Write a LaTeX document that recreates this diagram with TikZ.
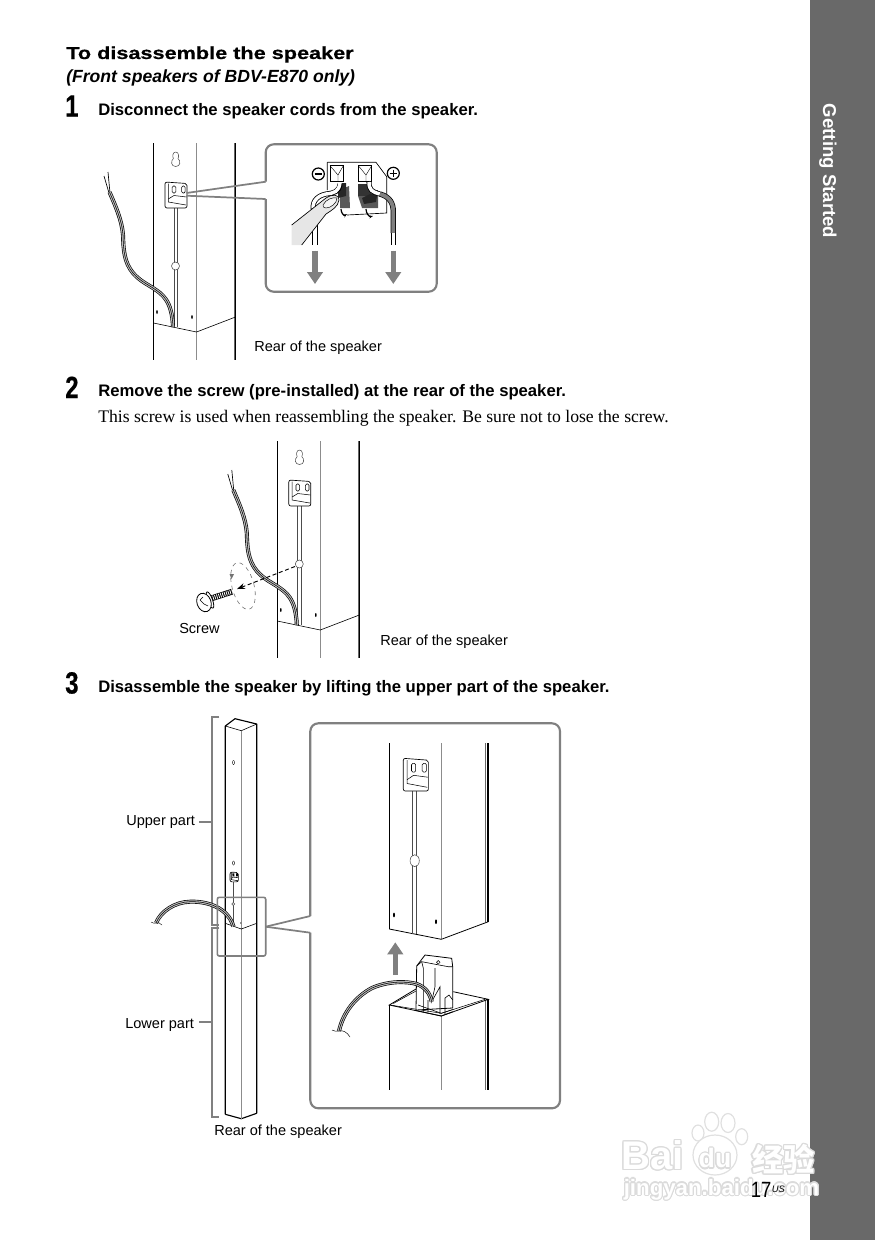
\documentclass[tikz,border=0pt]{standalone}
\usepackage{fontspec}
\usepackage{xcolor}
\usepackage[copies]{contour}
\setmainfont{Liberation Sans}
\newfontfamily\bodyserif{Liberation Serif}
\newfontfamily\widehead[FakeStretch=1.25,BoldFeatures={FakeBold=0.6}]{Liberation Sans}
\newfontfamily\stepfont[FakeStretch=0.78,BoldFeatures={FakeBold=0.5}]{Liberation Sans}
\newfontfamily\pagefont[FakeStretch=0.84]{Liberation Sans}
\newfontfamily\wmcjk{Noto Sans CJK SC}
\usetikzlibrary{arrows.meta,positioning,calc}
\definecolor{boxgray}{HTML}{808080}
\definecolor{sidegray}{HTML}{696969}
\definecolor{fingergray}{HTML}{E6E6E6}
\contourlength{0.9pt}

\begin{document}
\begin{tikzpicture}[
  x=0.75pt, y=-0.75pt,
  stepnum/.style={anchor=base west, inner sep=0, font=\stepfont\bfseries\fontsize{23}{24}\selectfont},
  stephead/.style={anchor=base west, inner sep=0, font=\bfseries\fontsize{12.5}{14}\selectfont},
  caplabel/.style={anchor=base west, inner sep=0, font=\fontsize{10.9}{12}\selectfont},
  outline/.style={line width=0.85pt, black},
  thinline/.style={line width=0.45pt, black},
  edgeline/.style={line width=0.7pt, black!45},
  stemline/.style={line width=0.4pt, black!70},
  insetbox/.style={draw=boxgray, line width=1.6pt, rounded corners=6pt},
  callout/.style={draw=boxgray, line width=1.3pt},
  cord/.style={line width=0.4pt, black, preaction={draw, black, line width=3pt}, preaction={draw, black!25, line width=2pt}},
  liftarrow/.style={-{Triangle[length=9pt, width=11.5pt]}, draw=boxgray, fill=boxgray, line width=3.8pt},
  wmtext/.style={inner sep=0, text=white},
  plate/.pic={
    \draw[line width=0.5pt, fill=white, rounded corners=1.5pt] (0,0) -- (22,1.5) -- (22,26) -- (0,26) -- cycle;
    \draw[line width=0.4pt] (3.3,1.5) -- (3.3,20) -- (21,23);
    \draw[line width=0.4pt, rounded corners=1pt] (7.2,4) rectangle (10.8,11);
    \draw[line width=0.4pt, rounded corners=1pt] (16.6,4) rectangle (20.2,11);
    \draw[line width=0.4pt] (3.3,17) -- (9,13.5) -- (21.5,15);
  }
]
\useasboundingbox (0,0) rectangle (875,1240);
\fill[sidegray] (809.5,0) rectangle (875,1240);
\node[anchor=center, inner sep=0, rotate=-90, text=white, font=\bfseries\fontsize{13.95}{15}\selectfont] (sidetitle) at (828,171) {Getting Started};

\node[anchor=base west, inner sep=0, font=\widehead\bfseries\fontsize{13}{15}\selectfont] (title) at (66,59) {To disassemble the speaker};
\node[anchor=base west, inner sep=0, font=\bfseries\itshape\fontsize{13.2}{15}\selectfont] (subtitle) at (66,82) {(Front speakers of BDV-E870 only)};
\node[stepnum] (num1) at (65,116.5) {1};
\node[stephead] (head1) at (98,115) {Disconnect the speaker cords from the speaker.};
\node[stepnum] (num2) at (65,398) {2};
\node[stephead] (head2) at (98,396) {Remove the screw (pre-installed) at the rear of the speaker.};
\node[anchor=base west, inner sep=0, font=\bodyserif\fontsize{13.25}{15}\selectfont] (body2) at (98,422) {This screw is used when reassembling the speaker. Be sure not to lose the screw.};
\node[stepnum] (num3) at (65,693.5) {3};
\node[stephead] (head3) at (98,692) {Disassemble the speaker by lifting the upper part of the speaker.};

\foreach \dx/\dy in {0/0,123.8/298}{
\begin{scope}[shift={(\dx,\dy)}]
\draw[outline] (153.5,143) -- (153.5,360);
\draw[edgeline] (196.5,143) -- (196.5,360);
\draw[line width=0.5pt, black!60] (234.3,143) -- (234.3,360);
\draw[outline] (235.8,143) -- (235.8,360);
\draw[thinline] (153.5,323) -- (196.5,332) -- (235.5,317);
\draw[stemline] (173.8,208) -- (173.8,327);
\draw[stemline] (177.2,208) -- (177.2,327);
\draw[stemline, fill=white] (175.5,266) circle (4);
\draw[stemline, fill=white] (175.7,152) .. controls (179,152) and (179,157) .. (178,158.5) .. controls (181,161) and (180.5,166.5) .. (175.7,166.5) .. controls (171,166.5) and (170.5,161) .. (173.4,158.5) .. controls (172.4,157) and (172.4,152) .. (175.7,152);
\pic at (165,182) {plate};
\fill (157,312) ellipse (0.8 and 2);
\fill (192,317) ellipse (0.8 and 2);
\draw[line width=0.5pt] (109,193) -- (104,176);
\draw[line width=0.5pt] (110,193) -- (108,172);
\draw[cord] (109.5,192) .. controls (115,205) and (122,220) .. (123,235) .. controls (123.5,250) and (124,262) .. (133,273) .. controls (140,281) and (147,284) .. (153,288) .. controls (162,294) and (172,300) .. (173,327);
\end{scope}
}

\draw[callout] (186.5,193) -- (265.7,181.7);
\draw[callout] (186.5,195.7) -- (265.7,199);
\draw[insetbox] (265.7,181.7) -- (265.7,144.3) -- (436.7,144.3) -- (436.7,291.7) -- (265.7,291.7) -- (265.7,199);
\draw[line width=0.5pt] (327.3,162.3) -- (376,162.3) -- (386.7,176.7) -- (386.7,213) -- (347,215) (327.3,162.3) -- (327.3,190);
\draw[line width=0.5pt] (330,165.7) rectangle (343.3,181.7);
\draw[line width=0.5pt] (358.3,165.7) rectangle (371.7,181.7);
\draw[line width=0.3pt] (330,165.7) -- (338,175) -- (338,181.7) (343.3,165.7) -- (338,175);
\draw[line width=0.3pt] (358.3,165.7) -- (366,175) -- (366,181.7) (371.7,165.7) -- (366,175);
\draw[line width=0.9pt] (318.3,174) circle (6);
\draw[line width=1.2pt] (314.5,174) -- (322,174);
\draw[line width=0.9pt] (393.3,173.3) circle (6);
\draw[line width=1.2pt] (389.5,173.3) -- (397,173.3) (393.3,169.5) -- (393.3,177);
\fill[black!65] (340,190) -- (349,186) -- (350,208) -- (340,208) -- cycle;
\fill[black!85] (338,183) -- (346,183) -- (346,196) -- (338,198) -- cycle;
\fill[black!65] (358,196) -- (378,196) -- (378,208) -- (362,208) -- cycle;
\fill[black!80] (358,184) rectangle (371,196);
\fill[black!85] (362,198) -- (378,190) -- (376,202) -- (364,204) -- cycle;
\draw[line width=0.9pt, -{Stealth[length=3pt]}] (341,209) .. controls (341,213) and (344,216) .. (347,214);
\draw[line width=0.9pt, -{Stealth[length=3pt]}] (366,209) .. controls (366,213) and (369,217) .. (373,216);
\draw[black, line width=3.8pt] (369,182) .. controls (369,190) and (372,192) .. (380,194);
\draw[white, line width=2.6pt] (369,182) .. controls (369,190) and (372,192) .. (380,194);
\draw[black, line width=4pt, line cap=butt] (380,194) .. controls (390,197) and (393.3,203) .. (393.3,212) -- (393.3,233);
\draw[black!50, line width=2.9pt, line cap=butt] (380,194) .. controls (390,197) and (393.3,203) .. (393.3,212) -- (393.3,233);
\draw[black, line width=3.8pt] (393.3,233) -- (393.3,245);
\draw[white, line width=2.6pt] (393.3,232.8) -- (393.3,246);
\draw[black, line width=3.8pt] (340,184) .. controls (339,192) and (334,193) .. (326,194) .. controls (316,196) and (311,203) .. (314,212);
\draw[white, line width=2.6pt] (340,182.5) .. controls (339,192) and (334,193) .. (326,194) .. controls (316,196) and (311,203) .. (314,212);
\draw[black, line width=3.8pt] (315,225) -- (315,245);
\draw[white, line width=2.6pt] (315,225) -- (315,246);
\fill[fingergray] (291.7,225) -- (326,198) .. controls (331,194) and (340,194) .. (339,200) .. controls (338,207) and (332,210) .. (326,214) -- (301.7,245) -- (291.7,245) -- cycle;
\draw[line width=0.5pt] (291.7,225) -- (326,198) .. controls (331,194) and (340,194) .. (339,200) .. controls (338,207) and (332,210) .. (326,214) -- (301.7,245);
\draw[line width=0.35pt, fill=fingergray!40] (323,205) .. controls (326,199) and (333,197) .. (337,198) .. controls (337,203) and (331,208) .. (326,208) .. controls (324,208) and (323,207) .. (323,205);
\draw[liftarrow] (315,250.5) -- (315,284);
\draw[liftarrow] (393.3,250.5) -- (393.3,284);
\node[caplabel] (rear1) at (254,351) {Rear of the speaker};

\draw[densely dashed, line width=0.7pt, -{Stealth[length=6pt, width=4.5pt]}] (295,566.5) -- (237,589);
\draw[dashed, line width=0.45pt, black!55, rotate around={15:(243,586)}] (243,586) ellipse (11 and 24);
\fill[black!55] (229.5,574) -- (234,574) -- (231.5,579) -- cycle;
\draw[line width=4.4pt, line cap=butt] (211,598.5) -- (232,591.7);
\draw[white, line width=3.4pt, dash pattern=on 0.6pt off 0.9pt, line cap=butt] (211,598.5) -- (232,591.7);
\draw[line width=0.6pt, fill=white, rotate around={20:(210,600)}] (210,600) ellipse (2.5 and 8.6);
\draw[line width=0.6pt, fill=white, rotate around={20:(204,602.5)}] (204,602.5) ellipse (7 and 9.5);
\draw[line width=0.4pt] (200,600) -- (204,604) -- (208,606) (200,600) -- (203,597);
\node[caplabel] (screwlabel) at (179,633) {Screw};
\node[caplabel] (rear2) at (380,645) {Rear of the speaker};

\draw[boxgray, line width=1.3pt] (219.3,717.3) -- (211.7,717.3) -- (211.7,925) -- (219.3,925);
\draw[boxgray, line width=1.3pt] (219.3,928.3) -- (211.7,928.3) -- (211.7,1116.7) -- (219.3,1116.7);
\draw[boxgray, line width=1.3pt] (199.3,822) -- (211.7,822);
\draw[boxgray, line width=1.3pt] (199.3,1021.7) -- (211.7,1021.7);
\node[caplabel] (upperlabel) at (126,825) {Upper part};
\node[caplabel] (lowerlabel) at (125,1028) {Lower part};
\draw[outline, line join=round] (225.3,1114.3) -- (225.3,726) -- (235,718.7) -- (256.7,724) -- (256.7,1113.3);
\draw[outline] (225.3,1114.3) -- (241.3,1118.7) -- (256.7,1113.3);
\draw[thinline] (225.3,726) -- (241.3,730.7) -- (256.7,724);
\draw[edgeline] (241.3,730.7) -- (241.3,1118.7);
\draw[thinline] (225.3,923.3) -- (241.3,929) -- (256.7,923.3);
\draw[line width=0.3pt, fill=white] (233.5,762.5) ellipse (1 and 2);
\draw[line width=0.3pt, fill=white] (233.5,863) ellipse (1 and 2);
\pic[scale=0.38] at (230,872) {plate};
\draw[stemline] (233.3,882) -- (233.3,925);
\draw[stemline, fill=white] (233.3,904) circle (1.5);
\fill (240.7,923) circle (0.6);
\draw[cord] (156,923) .. controls (161,911) and (175,902) .. (190,901.7) .. controls (208,901) and (228,908) .. (233.5,926.5);
\draw[line width=0.3pt] (151,922) .. controls (153,924) and (155,923) .. (156,923) .. controls (158,922) and (160,923) .. (162,925);
\draw[boxgray, line width=1.2pt, rounded corners=1.5pt] (217.3,897.3) rectangle (265.7,956);
\draw[callout] (265.7,926.7) -- (310.3,916);
\draw[callout] (265.7,926.7) -- (310.3,932.7);
\draw[insetbox] (310.3,916) -- (310.3,723.3) -- (560,723.3) -- (560,1108.3) -- (310.3,1108.3) -- (310.3,932.7);
\draw[outline] (389.3,743.3) -- (389.3,929);
\draw[edgeline] (441.3,743.3) -- (441.3,939.3);
\draw[line width=0.5pt, black!60] (485.7,743.3) -- (485.7,921.7);
\draw[outline] (488,743.3) -- (488,921.7);
\draw[line width=0.6pt] (389.3,929) -- (441.3,939.3) -- (488.3,921.7);
\draw[stemline] (412.7,791) -- (412.7,934);
\draw[stemline] (416.7,791) -- (416.7,934);
\draw[stemline, fill=white] (414.7,860.7) ellipse (4.6 and 6);
\pic[xscale=1.14, yscale=1.26] at (403.3,758.3) {plate};
\fill (394,915) ellipse (1 and 2.4);
\fill (436,921.7) ellipse (1 and 2.4);
\draw[liftarrow] (395.3,975) -- (395.3,942.3);
\draw[outline] (389.3,1005) -- (389.3,1090);
\draw[edgeline] (441.3,1016) -- (441.3,1090);
\draw[line width=0.5pt, black!60] (485.7,1000) -- (485.7,1090);
\draw[outline] (488,999.3) -- (488,1090);
\draw[line width=0.6pt] (416,989) -- (389.3,1005) -- (441.3,1016) -- (488.3,999.3) -- (453.3,991.7);
\draw[line width=0.4pt] (393.3,1003.5) -- (416,991) (392,1005.3) -- (441.3,1013.3) -- (485,999.3);
\draw[line width=0.6pt, fill=white, line join=round] (416,1010) -- (416.7,966) -- (425,955) -- (451.7,958.3) -- (452.7,966.7) -- (452.7,1008) -- cycle;
\draw[line width=0.45pt] (416.7,966) -- (421.7,961.7) -- (448.3,966.7) -- (452.7,966.7);
\draw[line width=0.45pt] (421.7,961.7) -- (423.3,968) -- (423.3,1011.7);
\draw[line width=0.45pt] (435,968) -- (435,986.7) -- (431.7,1001.7) -- (440,986.7) -- (440,1014);
\draw[line width=0.45pt] (428,1000) -- (428,1012) (445,1014) -- (445,998) -- (449,995) -- (452.7,1000);
\draw[line width=0.45pt] (418,1005) -- (441.3,1013.3) -- (452.7,1009.5);
\draw[line width=0.6pt] (416,1010.5) -- (441.3,1016) -- (452.7,1011.8);
\draw[line width=0.35pt, fill=white] (438.3,962.3) circle (1.8);
\draw[cord] (339,1031) .. controls (343,1013) and (355,997) .. (372,988) .. controls (388,981) and (406,981) .. (416.7,984) .. controls (425,987) and (430,993) .. (431.7,1001.7);
\draw[line width=0.35pt] (332,1030) .. controls (334,1032) and (337,1031) .. (339,1031) .. controls (343,1030) and (347,1032) .. (350,1037);
\node[caplabel] (rear3) at (214,1135) {Rear of the speaker};

\foreach \tx/\ty/\trx/\try in {711.7/1121.7/7/9.5,728/1123/7/9.5,698/1133/6/8,741.7/1136.7/6/8}{
  \draw[black!12, line width=0.9pt, fill=white] (\tx,\ty) ellipse [x radius=\trx, y radius=\try];
}
\draw[black!12, line width=0.9pt, fill=white] (715,1155) ellipse (22 and 20);
\node[wmtext, font=\bfseries\fontsize{30}{32}\selectfont] (wmbai) at (652.5,1156) {\contour{black!14}{Bai}};
\node[wmtext, font=\bfseries\fontsize{20}{22}\selectfont] (wmdu) at (715,1159) {\contour{black!14}{du}};
\node[wmtext, font=\wmcjk\bfseries\fontsize{23.5}{25}\selectfont] (wmcn) at (783.5,1160) {\contour{black!14}{经验}};
\node[wmtext, font=\bfseries\fontsize{16.7}{18}\selectfont] (wmurl) at (721.5,1190) {\contour{black!14}{jingyan.baidu.com}};

\node[anchor=base west, inner sep=0, font=\pagefont\fontsize{16.5}{18}\selectfont] (pagenum) at (750.5,1197) {17};
\node[anchor=base west, inner sep=0, font=\itshape\fontsize{7}{8}\selectfont] (pageus) at (771.5,1192) {US};
\end{tikzpicture}
\end{document}
